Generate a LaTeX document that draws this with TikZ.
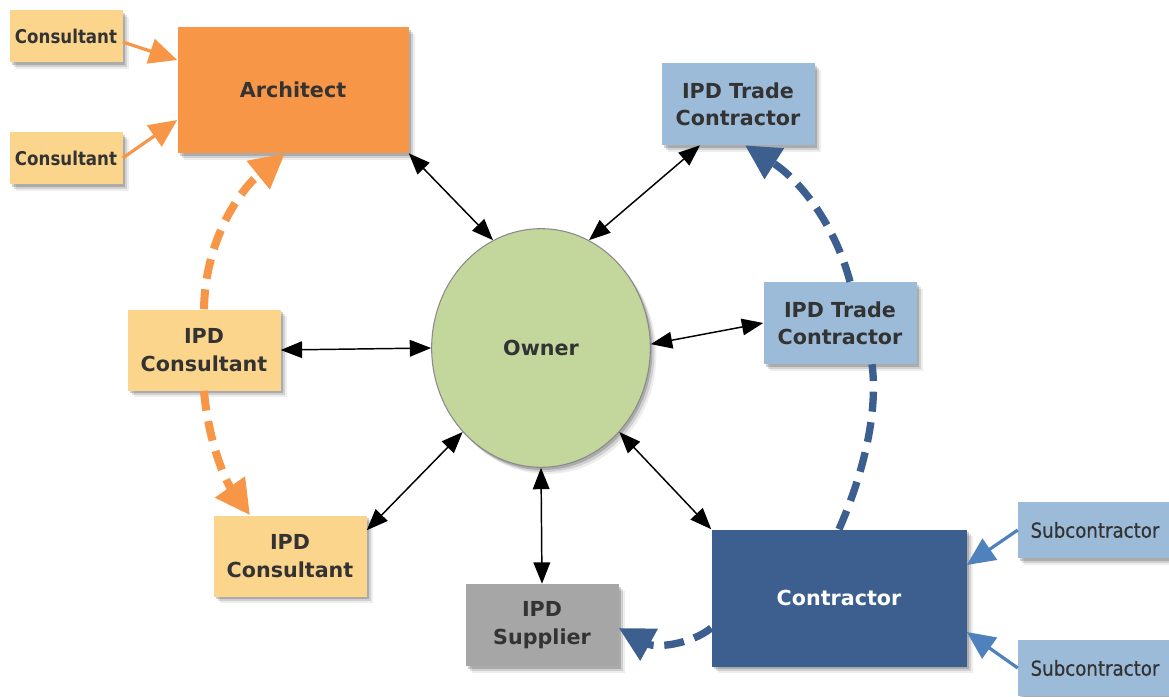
\documentclass[tikz,border=0pt]{standalone}
\usepackage{fontspec}
\setmainfont{DejaVu Sans}
\newfontfamily\condfont[FakeStretch=0.88]{DejaVu Sans}
\newfontfamily\subfont[FakeStretch=0.88,FakeBold=0.5]{DejaVu Sans}
\usetikzlibrary{arrows.meta,shapes.geometric,shadows,calc}
\definecolor{orangeA}{HTML}{F79646}
\definecolor{consfill}{HTML}{FCD58C}
\definecolor{tradefill}{HTML}{9BBBD9}
\definecolor{ctrfill}{HTML}{3C5F8F}
\definecolor{supfill}{HTML}{A6A6A6}
\definecolor{ownfill}{HTML}{C3D69B}
\definecolor{ownline}{HTML}{8A8A8A}
\definecolor{subarrow}{HTML}{4F81BD}
\definecolor{bluedash}{HTML}{3C5F8F}
\definecolor{txt}{HTML}{333333}
\tikzset{
  softshadow/.style={
    drop shadow={shadow xshift=1.5pt, shadow yshift=-2pt, opacity=0.18, fill=black},
    drop shadow={shadow xshift=3pt, shadow yshift=-3.5pt, opacity=0.12, fill=black},
    drop shadow={shadow xshift=4.5pt, shadow yshift=-5pt, opacity=0.07, fill=black}},
  shbox/.style={rectangle, inner sep=2pt, align=center, text=txt,
    font=\bfseries\fontsize{15.5}{20.5}\selectfont, softshadow},
  smallcons/.style={shbox, fill=consfill, minimum width=84.75pt, minimum height=39pt,
    font=\condfont\bfseries\fontsize{14.2}{16}\selectfont},
  subbox/.style={shbox, fill=tradefill, minimum width=115.5pt, minimum height=42pt,
    font=\subfont\fontsize{15.5}{17}\selectfont},
  midbox/.style={shbox, minimum width=114.75pt, minimum height=61.5pt},
  barrow/.style={black, line width=1.1pt, {Triangle[length=16pt,width=12.5pt]}-{Triangle[length=16pt,width=12.5pt]}},
  oarrow/.style={orangeA, line width=2.4pt, -{Triangle[length=21pt,width=19pt]}},
  sarrow/.style={subarrow, line width=2.4pt, -{Triangle[length=21pt,width=19pt]}},
  odash/.style={orangeA, line width=6pt, dash pattern=on 15pt off 8pt, -{Triangle[length=26pt,width=26pt]}},
  bdash/.style={bluedash, line width=5.5pt, dash pattern=on 15pt off 8pt},
  bdasharrow/.style={bdash, -{Triangle[length=26pt,width=26pt]}}
}
\begin{document}
\begin{tikzpicture}[x=0.75pt,y=-0.75pt]
\useasboundingbox (0,0) rectangle (1169,696);
% nodes
\node[smallcons] (c1) at (66,36) {Consultant};
\node[smallcons] (c2) at (66,158) {Consultant};
\node[shbox, fill=orangeA, minimum width=173.25pt, minimum height=94.5pt] (arch) at (293,90) {Architect};
\node[midbox, fill=tradefill] (tt) at (738,104) {IPD Trade\\Contractor};
\node[midbox, fill=tradefill] (tm) at (840,323) {IPD Trade\\Contractor};
\node[ellipse, draw=ownline, line width=0.8pt, fill=ownfill, minimum width=164pt, minimum height=179pt, inner sep=0pt,
  text=txt, font=\bfseries\fontsize{15.5}{19}\selectfont, softshadow] (owner) at (541,348) {Owner};
\node[midbox, fill=consfill, minimum height=60.75pt] (ic1) at (204,350) {IPD\\Consultant};
\node[midbox, fill=consfill, minimum height=60.75pt] (ic2) at (290,556) {IPD\\Consultant};
\node[midbox, fill=supfill] (sup) at (542,625) {IPD\\Supplier};
\node[shbox, fill=ctrfill, text=white, minimum width=191.25pt, minimum height=102.75pt] (ctr) at (839,598) {Contractor};
\node[subbox] (s1) at (1095,530) {Subcontractor};
\node[subbox] (s2) at (1095,668) {Subcontractor};
% consultant arrows
\draw[oarrow] ($(c1.east)+(0,6)$) -- ($(arch.west)+(0,-30)$);
\draw[oarrow] (c2.east) -- ($(arch.west)+(0,30)$);
% owner links
\draw[barrow] (arch.south east) -- (owner.114);
\draw[barrow] ($(tt.south)+(-38,0)$) -- (owner.66);
\draw[barrow] (tm.west) -- (owner.2);
\draw[barrow] (ic1.east) -- (owner.west);
\draw[barrow] ($(ic2.north east)+(0,15)$) -- (owner.227);
\draw[barrow] (sup.north) -- (owner.south);
\draw[barrow] (ctr.north west) -- (owner.313);
% dashed orange
\draw[odash] (ic1.north) .. controls (205,240) and (240,190) .. ($(arch.south)+(-8,0)$);
\draw[odash] (ic1.south) .. controls (208,440) and (225,480) .. ($(ic2.north)+(-40,0)$);
% dashed blue
\draw[bdasharrow] ($(tm.north)+(10,0)$) .. controls (835,225) and (800,180) .. ($(tt.south)+(7,0)$);
\draw[bdash] (ctr.north) .. controls (865,470) and (878,410) .. ($(tm.south)+(32,0)$);
\draw[bdasharrow] ($(ctr.west)+(0,30)$) .. controls (690,645) and (655,648) .. ($(sup.east)+(0,3)$);
% subcontractor arrows
\draw[sarrow] (s1.west) -- ($(ctr.east)+(0,-33)$);
\draw[sarrow] (s2.west) -- ($(ctr.east)+(0,34)$);
\end{tikzpicture}
\end{document}
